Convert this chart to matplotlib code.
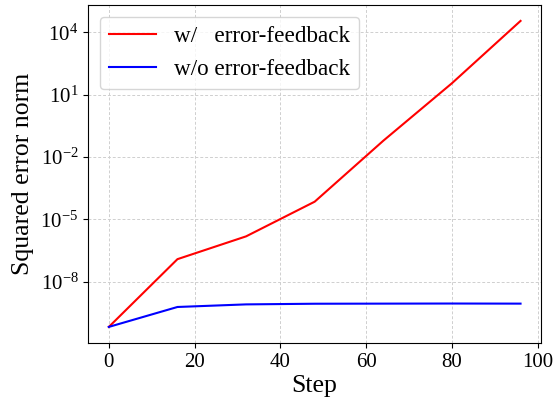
import numpy as np
import matplotlib.pyplot as plt

plt.rcParams['font.family'] = ['Liberation Serif', 'DejaVu Serif']
plt.rcParams['mathtext.fontset'] = 'stix'

# Data
steps = [0, 16, 32, 48, 64, 80, 96]
err_with_fb = [6.6e-11, 1.2e-7, 1.5e-6, 7e-5, 0.06, 35, 3.5e4]
err_without_fb = [6.6e-11, 6e-10, 8e-10, 8.6e-10, 8.7e-10, 8.8e-10, 8.7e-10]

fig, ax = plt.subplots(figsize=(5.55, 3.98), dpi=100)
ax.plot(steps, err_with_fb, color='red', linewidth=1.5, label='w/   error-feedback')
ax.plot(steps, err_without_fb, color='blue', linewidth=1.5, label='w/o error-feedback')
ax.set_yscale('log')
ax.set_ylim(1.1e-11, 2e5)
ax.set_yticks([1e-8, 1e-5, 1e-2, 1e1, 1e4])
ax.minorticks_off()
ax.set_xlabel('Step', fontsize=18.5, labelpad=2)
ax.set_ylabel('Squared error norm', fontsize=18.5, labelpad=5)
ax.tick_params(labelsize=15)
ax.grid(True, linestyle=(0, (3, 2)), color='#cfcfcf', linewidth=0.7)
ax.legend(loc='upper left', fontsize=16.7)

fig.subplots_adjust(left=0.159, right=0.975, top=0.987, bottom=0.138)
plt.savefig('out.png')
